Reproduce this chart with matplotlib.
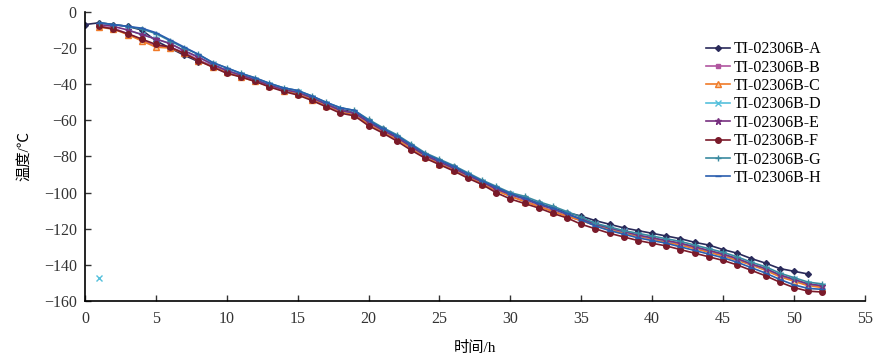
import numpy as np
import matplotlib
matplotlib.use('Agg')
import matplotlib.pyplot as plt

plt.rcParams['font.family'] = ['Liberation Serif', 'Noto Sans CJK SC']
plt.rcParams['axes.unicode_minus'] = True

# time (h)
t_a = list(range(0, 52))
t = list(range(1, 53))

# temperature (degC) per sensor
a = [-7, -6, -7, -8, -10, -16, -20, -24, -27.5, -29.5, -32.5, -35, -37.5, -40.5, -43, -44.5,
     -47.5, -51, -54, -55.5, -60.5, -65, -69, -74, -79, -82.5, -86, -90, -94, -97.5, -101,
     -103, -106, -108.5, -111, -113, -115.5, -117.5, -119.5, -121, -122.5, -124, -125.5,
     -127.5, -129, -131.5, -133.5, -136.5, -139, -142, -143.5, -145]
b = [-8, -9, -12, -15.5, -19, -19.5, -22.5, -26.5, -30, -33.5, -35.5, -38, -41, -43.5, -45,
     -48, -51.5, -55, -56.5, -62, -66, -70, -75, -80, -83.5, -87, -91, -94.5, -98.5, -102,
     -104.5, -107.5, -110, -113, -115.5, -118, -120, -122, -124, -125.5, -127, -128.5,
     -130.5, -132.5, -134.5, -137, -140, -142.5, -146, -148.5, -151, -152]
c = [-8.5, -9.5, -12.5, -16, -19.5, -20, -23, -27, -30.5, -33.5, -36, -38.5, -41, -43.5,
     -45.5, -48.5, -52, -55, -57, -62, -66.5, -70.5, -75.5, -80.5, -84, -87.5, -91, -95,
     -99, -102, -105, -107.5, -110.5, -113, -115.5, -118, -120.5, -122.5, -124, -125.5,
     -127.5, -129, -131, -133, -135, -137.5, -140, -143, -146.5, -149, -151.5, -152.5]
d = [-147, np.nan, -10, -12.5, -15, -17.5, -21.5, -25, -29, -32.5, -35, -37.5, -40.5, -43,
     -44.5, -47.5, -51, -54.5, -56, -61, -65.5, -69.5, -74.5, -79.5, -83, -86.5, -90.5, -94,
     -98, -101, -103.5, -106.5, -109, -112, -114.5, -117.5, -119.5, -121.5, -123.5, -125,
     -126.5, -128, -130, -132, -134, -136.5, -139.5, -142, -145.5, -148, -150.5, -151.5]
e = [-7, -8, -10, -12.5, -15, -17.5, -21.5, -25, -29, -32.5, -35, -37.5, -40.5, -43, -44.5,
     -47.5, -51, -54.5, -56, -61, -65.5, -69.5, -74.5, -79.5, -83, -86.5, -90.5, -94, -98,
     -101, -103.5, -106.5, -109, -112, -114.5, -117.5, -119.5, -121.5, -123.5, -125, -126.5,
     -128, -130, -132, -134, -136.5, -139.5, -142, -145.5, -148, -150.5, -151.5]
f = [-8, -9.5, -12, -15, -18, -19.5, -23, -27, -30.5, -34, -36, -38.5, -41.5, -44, -46, -49,
     -52.5, -56, -57.5, -63, -67, -71.5, -76.5, -81, -84.5, -88, -92, -95.5, -100, -103.5,
     -106, -108.5, -111.5, -114, -117.5, -120, -122.5, -124.5, -126.5, -128, -129.5, -131.5,
     -133.5, -135.5, -137.5, -140, -143, -146, -149.5, -152.5, -154.5, -155]
g = [-6, -7, -8, -9.5, -12, -16, -20, -23.5, -28, -31, -34, -36.5, -39.5, -42, -43.5, -46.5,
     -50, -53, -54.5, -59.5, -64, -68, -73, -78, -81.5, -85, -89, -93, -96.5, -100, -102,
     -105, -107.5, -110.5, -113.5, -117, -119, -121, -122.5, -124, -125.5, -127, -129, -131,
     -133, -135.5, -138.5, -141, -144.5, -147, -149.5, -150.5]
h = [-6, -7, -8, -9, -11.5, -15.5, -19.5, -23.5, -28, -31, -34, -36.5, -39.5, -42, -43.5,
     -46.5, -50, -53, -54.5, -60, -64.5, -68.5, -73.5, -78.5, -82, -85.5, -89.5, -93.5, -97,
     -100.5, -103, -106, -108.5, -111.5, -115, -118.5, -121, -123, -125, -126.5, -128, -130,
     -132, -134, -136, -138.5, -141.5, -144.5, -148, -151, -153, -153.5]

labels = ['TI-02306B-A', 'TI-02306B-B', 'TI-02306B-C', 'TI-02306B-D',
          'TI-02306B-E', 'TI-02306B-F', 'TI-02306B-G', 'TI-02306B-H']

fig = plt.figure(figsize=(8.86, 3.61), dpi=100)
ax = fig.add_axes([0.096, 0.166, 0.88, 0.801])

lw = 1.2
ax.plot(t_a, a, color='#2a2a5a', marker='D', ms=3, lw=lw, label=labels[0])
ax.plot(t, b, color='#b0559f', marker='s', ms=3.5, lw=lw, label=labels[1])
ax.plot(t, c, color='#f07a28', marker='^', ms=4, mfc='#f7c79a', lw=lw, label=labels[2])
ax.plot(t, d, color='#55c0dc', marker='x', ms=4, lw=lw, label=labels[3])
ax.plot(t, e, color='#77307f', marker='*', ms=4.5, lw=lw, label=labels[4])
ax.plot(t, f, color='#7a1a2a', marker='o', ms=4, lw=lw, label=labels[5])
ax.plot(t, g, color='#3a8aa0', marker='+', ms=5, lw=lw, label=labels[6])
ax.plot(t, h, color='#2a5eae', marker='_', ms=4, lw=lw, label=labels[7])

ax.set_xlim(0, 55)
ax.set_ylim(-160, 0)
ax.set_xticks(range(0, 56, 5))
ax.set_yticks(range(-160, 1, 20))
ax.spines['top'].set_visible(False)
ax.spines['right'].set_visible(False)
ax.spines['left'].set_linewidth(1.2)
ax.spines['bottom'].set_linewidth(1.2)
ax.tick_params(direction='in', length=4, width=1, labelsize=11.5, colors='#333333')
ax.tick_params(axis='x', pad=7)
ax.tick_params(axis='y', pad=6)

ax.set_xlabel('时间/h', fontsize=11, labelpad=10)
ax.set_ylabel('温度/℃', fontsize=11, labelpad=9)

ax.legend(loc='upper left', bbox_to_anchor=(0.797, 0.886), bbox_transform=fig.transFigure,
          frameon=False, fontsize=11.5, handlelength=1.5, handletextpad=0.2,
          labelspacing=0.15, borderaxespad=0, borderpad=0)

fig.savefig('out.png', dpi=100)
